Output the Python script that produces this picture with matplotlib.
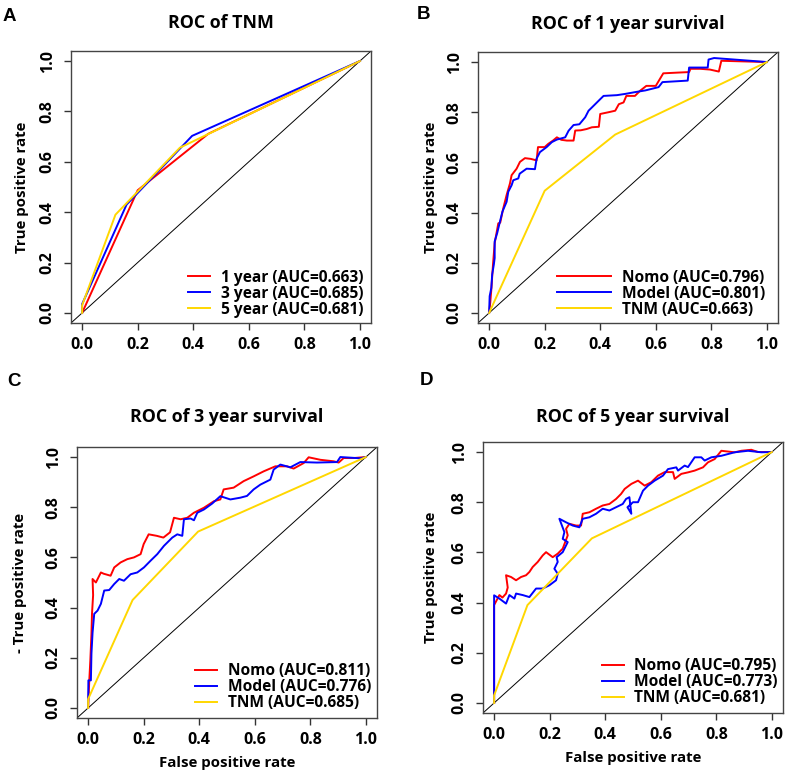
import matplotlib
matplotlib.use("Agg")
import matplotlib.pyplot as plt

plt.rcParams['font.family'] = ['Open Sans', 'DejaVu Sans']
plt.rcParams['font.weight'] = 'bold'

# TNM stage ROC points (1, 3, 5 year)
tnm1_x = [0, 0.2, 0.454, 1.0]
tnm1_y = [0, 0.487, 0.711, 1.0]
tnm3_x = [0, 0, 0.16, 0.396, 1.0]
tnm3_y = [0, 0.035, 0.43, 0.703, 1.0]
tnm5_x = [0, 0, 0.12, 0.352, 1.0]
tnm5_y = [0, 0.03, 0.39, 0.656, 1.0]

# 1 year survival
nomo1_x = [0, 0.004, 0.008, 0.014, 0.02, 0.033, 0.04, 0.051, 0.063, 0.075, 0.081, 0.099, 0.111, 0.129,
           0.15, 0.171, 0.176, 0.2, 0.213, 0.23, 0.244, 0.26, 0.28, 0.304, 0.31, 0.33, 0.351, 0.37,
           0.395, 0.4, 0.43, 0.454, 0.467, 0.484, 0.494, 0.525, 0.543, 0.566, 0.6, 0.627, 0.681,
           0.72, 0.725, 0.76, 0.795, 0.827, 0.836, 0.9, 1.0]
nomo1_y = [0, 0.04, 0.094, 0.193, 0.278, 0.357, 0.36, 0.417, 0.47, 0.516, 0.549, 0.575, 0.602, 0.617,
           0.614, 0.608, 0.661, 0.661, 0.674, 0.687, 0.70, 0.69, 0.687, 0.687, 0.727, 0.728, 0.733, 0.74,
           0.742, 0.793, 0.80, 0.806, 0.832, 0.839, 0.865, 0.865, 0.885, 0.905, 0.905, 0.955, 0.958,
           0.96, 0.973, 0.973, 0.97, 0.962, 1.005, 1.003, 1.0]
model1_x = [0, 0.002, 0.008, 0.011, 0.017, 0.02, 0.02, 0.029, 0.039, 0.048, 0.063, 0.069, 0.081, 0.087,
            0.105, 0.11, 0.135, 0.165, 0.171, 0.183, 0.207, 0.226, 0.244, 0.274, 0.286, 0.304, 0.325,
            0.346, 0.358, 0.37, 0.4, 0.412, 0.46, 0.49, 0.525, 0.563, 0.61, 0.624, 0.715, 0.72, 0.787,
            0.79, 0.81, 1.0]
model1_y = [0, 0.067, 0.1, 0.153, 0.193, 0.219, 0.285, 0.318, 0.364, 0.404, 0.443, 0.483, 0.509, 0.529,
            0.536, 0.555, 0.575, 0.573, 0.615, 0.641, 0.661, 0.681, 0.691, 0.70, 0.726, 0.749, 0.752,
            0.78, 0.806, 0.819, 0.852, 0.865, 0.868, 0.873, 0.88, 0.887, 0.90, 0.92, 0.926, 0.978, 0.978,
            1.01, 1.016, 1.0]

# 3 year survival
nomo3_x = [0, 0.004, 0.008, 0.012, 0.014, 0.018, 0.016, 0.028, 0.046, 0.056, 0.081, 0.094, 0.117, 0.141,
           0.165, 0.189, 0.2, 0.218, 0.247, 0.271, 0.295, 0.309, 0.333, 0.357, 0.381, 0.417, 0.453,
           0.476, 0.488, 0.524, 0.56, 0.596, 0.632, 0.674, 0.716, 0.74, 0.776, 0.794, 0.836, 0.884,
           0.902, 0.92, 0.956, 1.0]
nomo3_y = [0, 0.104, 0.19, 0.295, 0.375, 0.45, 0.514, 0.50, 0.54, 0.535, 0.527, 0.56, 0.58, 0.593,
           0.60, 0.613, 0.653, 0.692, 0.686, 0.679, 0.70, 0.758, 0.752, 0.758, 0.778, 0.798, 0.824,
           0.831, 0.871, 0.878, 0.904, 0.923, 0.943, 0.963, 0.963, 0.954, 0.976, 0.999, 0.989, 0.983,
           0.978, 0.996, 0.996, 1.0]
model3_x = [0, 0.001, 0.01, 0.012, 0.016, 0.022, 0.034, 0.046, 0.058, 0.076, 0.094, 0.112, 0.129, 0.153,
            0.177, 0.201, 0.225, 0.249, 0.273, 0.303, 0.321, 0.339, 0.345, 0.369, 0.381, 0.393, 0.417,
            0.447, 0.476, 0.512, 0.548, 0.572, 0.596, 0.62, 0.656, 0.668, 0.692, 0.728, 0.764, 0.824,
            0.896, 0.908, 0.98, 1.0]
model3_y = [0, 0.11, 0.11, 0.217, 0.30, 0.375, 0.388, 0.415, 0.468, 0.47, 0.494, 0.514, 0.507, 0.533,
            0.54, 0.56, 0.587, 0.613, 0.646, 0.679, 0.692, 0.686, 0.752, 0.755, 0.748, 0.778, 0.791,
            0.815, 0.844, 0.831, 0.838, 0.845, 0.871, 0.89, 0.91, 0.95, 0.97, 0.959, 0.98, 0.978,
            0.98, 1.0, 0.995, 1.0]

# 5 year survival
nomo5_x = [0, 0, 0.019, 0.03, 0.043, 0.049, 0.043, 0.061, 0.079, 0.097, 0.115, 0.127, 0.139, 0.157,
           0.175, 0.187, 0.211, 0.229, 0.247, 0.265, 0.259, 0.271, 0.295, 0.313, 0.319, 0.343, 0.367,
           0.391, 0.415, 0.439, 0.457, 0.47, 0.494, 0.518, 0.542, 0.566, 0.59, 0.614, 0.644, 0.65,
           0.674, 0.698, 0.722, 0.752, 0.77, 0.794, 0.818, 0.866, 0.89, 0.926, 0.95, 1.0]
nomo5_y = [0, 0.39, 0.43, 0.42, 0.436, 0.46, 0.509, 0.502, 0.489, 0.502, 0.509, 0.522, 0.542, 0.562,
           0.588, 0.601, 0.581, 0.595, 0.615, 0.668, 0.694, 0.714, 0.707, 0.707, 0.754, 0.76, 0.774,
           0.787, 0.793, 0.813, 0.833, 0.853, 0.873, 0.886, 0.866, 0.88, 0.906, 0.92, 0.92, 0.893,
           0.913, 0.919, 0.926, 0.939, 0.959, 0.972, 1.005, 0.999, 1.005, 1.009, 1.0, 1.0]
model5_x = [0, 0, 0.019, 0.043, 0.055, 0.073, 0.079, 0.103, 0.127, 0.151, 0.175, 0.199, 0.223, 0.229,
            0.217, 0.229, 0.225, 0.247, 0.265, 0.247, 0.253, 0.235, 0.259, 0.283, 0.307, 0.319, 0.343,
            0.367, 0.391, 0.415, 0.439, 0.463, 0.475, 0.487, 0.494, 0.48, 0.5, 0.518, 0.536, 0.554,
            0.578, 0.608, 0.626, 0.656, 0.662, 0.686, 0.698, 0.722, 0.746, 0.758, 0.782, 0.818, 0.866,
            0.914, 0.962, 1.0]
model5_y = [0, 0.429, 0.416, 0.396, 0.43, 0.416, 0.436, 0.43, 0.422, 0.456, 0.456, 0.469, 0.489, 0.515,
            0.535, 0.562, 0.581, 0.601, 0.641, 0.654, 0.681, 0.734, 0.72, 0.707, 0.70, 0.734, 0.74,
            0.754, 0.774, 0.767, 0.78, 0.793, 0.813, 0.82, 0.754, 0.78, 0.80, 0.80, 0.846, 0.866,
            0.886, 0.906, 0.932, 0.939, 0.926, 0.946, 0.94, 0.979, 0.979, 0.966, 0.979, 0.985, 0.999,
            1.005, 0.999, 1.0]

ticks = [0.0, 0.2, 0.4, 0.6, 0.8, 1.0]
tick_labels = ["0.0", "0.2", "0.4", "0.6", "0.8", "1.0"]

RED, BLUE, GOLD = "#ff0000", "#0000ff", "#ffd700"

fig = plt.figure(figsize=(7.9, 7.77), dpi=100)
W, H = 790, 777


def add_ax(l, t, r, b):
    return fig.add_axes([l / W, 1 - b / H, (r - l) / W, (b - t) / H])


def style(ax, title, ylabel, ylab_x, xlabel=None, title_pad=16.5):
    ax.set_xlim(-0.04, 1.04)
    ax.set_ylim(-0.04, 1.04)
    ax.axline((0, 0), slope=1, color="black", lw=0.7, zorder=1)
    ax.set_xticks(ticks)
    ax.set_xticklabels(tick_labels)
    ax.set_yticks(ticks)
    ax.set_yticklabels(tick_labels, rotation=90, va="center")
    ax.tick_params(length=5, width=1, color="#333333", labelsize=11.5)
    ax.tick_params(axis="x", pad=5)
    ax.tick_params(axis="y", pad=6)
    for s in ax.spines.values():
        s.set_color("#444444")
        s.set_linewidth(1)
    ax.set_title(title, fontsize=12.8, fontweight="bold", pad=title_pad)
    ax.set_ylabel(ylabel, fontsize=10.8, fontweight="bold")
    ax.yaxis.set_label_coords(ylab_x, 0.5)
    if xlabel:
        ax.set_xlabel(xlabel, fontsize=10.8, fontweight="bold")
        ax.xaxis.set_label_coords(0.5, -0.14)


def leg(ax, hl, anchor):
    ax.legend(loc="lower right", bbox_to_anchor=anchor, frameon=False, fontsize=11.2,
              handlelength=hl, handletextpad=0.7, labelspacing=0.0, borderpad=0,
              borderaxespad=0)


lw = 1.4

# A
axA = add_ax(71, 51, 371, 323)
axA.plot(tnm1_x, tnm1_y, color=RED, lw=lw, label="1 year (AUC=0.663)")
axA.plot(tnm3_x, tnm3_y, color=BLUE, lw=lw, label="3 year (AUC=0.685)")
axA.plot(tnm5_x, tnm5_y, color=GOLD, lw=lw, label="5 year (AUC=0.681)")
style(axA, "ROC of TNM", "True positive rate", -0.14)
leg(axA, 1.4, (0.975, 0.02))

# B
axB = add_ax(478, 52, 778, 323)
axB.plot(nomo1_x, nomo1_y, color=RED, lw=lw, label="Nomo (AUC=0.796)")
axB.plot(model1_x, model1_y, color=BLUE, lw=lw, label="Model (AUC=0.801)")
axB.plot(tnm1_x, tnm1_y, color=GOLD, lw=lw, label="TNM (AUC=0.663)")
style(axB, "ROC of 1 year survival", "True positive rate", -0.135)
leg(axB, 3.5, (0.958, 0.02))

# C
axC = add_ax(77, 447, 377, 718)
axC.plot(nomo3_x, nomo3_y, color=RED, lw=lw, label="Nomo (AUC=0.811)")
axC.plot(model3_x, model3_y, color=BLUE, lw=lw, label="Model (AUC=0.776)")
axC.plot(tnm3_x, tnm3_y, color=GOLD, lw=lw, label="TNM (AUC=0.685)")
style(axC, "ROC of 3 year survival", "- True positive rate", -0.165,
      xlabel="False positive rate", title_pad=18)
leg(axC, 1.4, (0.98, 0.025))

# D
axD = add_ax(483, 442, 783, 713)
axD.plot(nomo5_x, nomo5_y, color=RED, lw=lw, label="Nomo (AUC=0.795)")
axD.plot(model5_x, model5_y, color=BLUE, lw=lw, label="Model (AUC=0.773)")
axD.plot(tnm5_x, tnm5_y, color=GOLD, lw=lw, label="TNM (AUC=0.681)")
style(axD, "ROC of 5 year survival", "True positive rate", -0.15,
      xlabel="False positive rate", title_pad=14.5)
leg(axD, 1.4, (0.983, 0.025))

for lab, x, y in [("A", 3, 8), ("B", 417, 6), ("C", 7, 373), ("D", 420, 372)]:
    fig.text(x / W, 1 - y / H, lab, fontsize=13.5, fontweight="bold",
             family="Liberation Sans", va="top", ha="left")

fig.savefig("out.png", dpi=100)
